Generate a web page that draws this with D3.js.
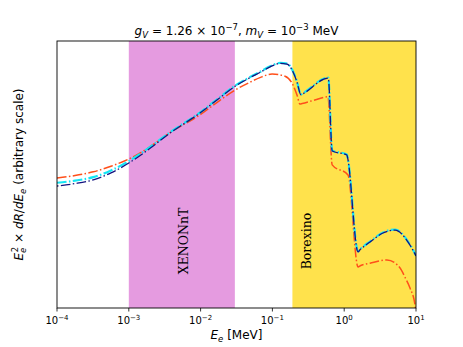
<!DOCTYPE html>
<html lang="en">
<head>
<meta charset="utf-8">
<script src="https://d3js.org/d3.v7.min.js"></script>
<style>
body { margin: 0; background: #fff; }
text { font-family: "DejaVu Sans", sans-serif; fill: #000; }
</style>
</head>
<body>
<div id="chart"></div>
<script>
// energies in MeV, rates in arbitrary units
var blueE = [1e-4, 1.78e-4, 3.2e-4, 5.65e-4, 1e-3, 2e-3, 3.7e-3, 0.01, 0.0186, 0.03, 0.049, 0.067, 0.093, 0.128, 0.16, 0.194, 0.22, 0.25, 0.27, 0.6, 0.68, 1.09, 1.12, 1.56, 1.65, 2.29, 3.47, 5.1, 7.75, 10];
var blueV = [45.7, 46.6, 48.0, 50.6, 54.3, 59.9, 65.4, 73.2, 78.8, 83.0, 86.3, 88.2, 90.3, 91.6, 91.3, 88.4, 84.6, 79.8, 80.3, 86.1, 58.8, 57.3, 56.0, 21.0, 21.7, 24.7, 28.1, 29.2, 24.7, 19.5];
var cyanV = [46.9, 47.7, 49.0, 51.5, 55.0, 60.4, 65.7, 73.4, 79.0, 83.2, 86.5, 88.4, 90.5, 91.8, 91.5, 88.6, 84.8, 80.0, 80.5, 86.3, 59.0, 57.5, 56.2, 21.2, 21.9, 24.9, 28.3, 29.4, 24.9, 19.7];
var orangeE = [1e-4, 1.78e-4, 3.2e-4, 5.65e-4, 1e-3, 2e-3, 3.7e-3, 0.01, 0.0186, 0.03, 0.049, 0.067, 0.099, 0.15, 0.194, 0.22, 0.242, 0.26, 0.39, 0.594, 0.68, 1.13, 1.56, 1.7, 2.29, 3.94, 6.0, 7.0, 8.25, 9.7, 10];
var orangeV = [48.7, 49.6, 51.0, 53.1, 55.8, 60.5, 65.6, 72.5, 77.8, 81.6, 84.6, 86.3, 87.6, 86.8, 83.5, 79.8, 76.4, 76.6, 77.9, 79.1, 53.6, 49.8, 15.4, 15.9, 16.8, 18.0, 15.0, 11.6, 7.5, 1.1, -2];
var bands = [
  {name: "XENONnT", lo: 1e-3, hi: 0.03, at: 5.5e-3, color: "#e59be0"},
  {name: "Borexino", lo: 0.19, hi: 10, at: 0.28, color: "#ffe24c"}
];
var xTicks = [1e-4, 1e-3, 1e-2, 1e-1, 1e0, 1e1];
var xTickExp = ["\u22124", "\u22123", "\u22122", "\u22121", "0", "1"];

var W = 463, H = 347;
var m = {left: 57, right: 47, top: 41, bottom: 39};

var svg = d3.select("#chart").append("svg")
  .attr("width", W)
  .attr("height", H);

var x = d3.scaleLog().domain([1e-4, 10]).range([m.left, W - m.right]);
var y = d3.scaleLinear().domain([0, 100]).range([H - m.bottom, m.top]);

svg.append("clipPath").attr("id", "clip")
  .append("rect")
  .attr("x", m.left).attr("y", m.top)
  .attr("width", W - m.left - m.right)
  .attr("height", H - m.top - m.bottom);

var plot = svg.append("g").attr("clip-path", "url(#clip)");

plot.selectAll("rect.band")
  .data(bands)
  .enter().append("rect")
  .attr("class", "band")
  .attr("x", function(d) { return x(d.lo); })
  .attr("width", function(d) { return x(d.hi) - x(d.lo); })
  .attr("y", m.top)
  .attr("height", H - m.top - m.bottom)
  .attr("fill", function(d) { return d.color; });

var line = d3.line()
  .curve(d3.curveMonotoneX)
  .x(function(d) { return x(d[0]); })
  .y(function(d) { return y(d[1]); });

function pairs(es, vs) {
  return es.map(function(e, i) { return [e, vs[i]]; });
}

plot.append("path")
  .datum(pairs(orangeE, orangeV))
  .attr("d", line)
  .attr("fill", "none")
  .attr("stroke", "#ff4f1a")
  .attr("stroke-width", 1.5)
  .attr("stroke-dasharray", "9.6,2.4,1.5,2.4");

plot.append("path")
  .datum(pairs(blueE, cyanV))
  .attr("d", line)
  .attr("fill", "none")
  .attr("stroke", "#14e6f5")
  .attr("stroke-width", 2.2)
  .attr("stroke-dasharray", "9.6,2.4,1.5,2.4");

plot.append("path")
  .datum(pairs(blueE, blueV))
  .attr("d", line)
  .attr("fill", "none")
  .attr("stroke", "#141480")
  .attr("stroke-width", 1.3)
  .attr("stroke-dasharray", "1.5,2.4,9.6,2.4");

// band labels
plot.selectAll("text.blabel")
  .data(bands)
  .enter().append("text")
  .attr("class", "blabel")
  .attr("transform", function(d) {
    return "translate(" + (x(d.at) + 6) + "," + 241 + ") rotate(-90)";
  })
  .attr("text-anchor", "middle")
  .style("font-family", "'DejaVu Serif', serif")
  .style("font-size", "12.5px")
  .text(function(d) { return d.name; });

// frame
svg.append("rect")
  .attr("x", m.left).attr("y", m.top)
  .attr("width", W - m.left - m.right)
  .attr("height", H - m.top - m.bottom)
  .attr("fill", "none")
  .attr("stroke", "#000")
  .attr("stroke-width", 0.9);

// x axis
var xAxis = svg.append("g")
  .attr("transform", "translate(0," + (H - m.bottom) + ")");
xAxis.selectAll("line")
  .data(xTicks)
  .enter().append("line")
  .attr("x1", function(d) { return x(d); })
  .attr("x2", function(d) { return x(d); })
  .attr("y1", 0).attr("y2", 3.5)
  .attr("stroke", "#000").attr("stroke-width", 0.8);
var tl = xAxis.selectAll("text")
  .data(xTicks)
  .enter().append("text")
  .attr("x", function(d) { return x(d); })
  .attr("y", 16)
  .attr("text-anchor", "middle")
  .style("font-size", "10px");
tl.append("tspan").text("10");
tl.append("tspan")
  .attr("dy", -4)
  .style("font-size", "7px")
  .text(function(d, i) { return xTickExp[i]; });

svg.append("text")
  .attr("x", (m.left + W - m.right) / 2)
  .attr("y", 339)
  .attr("text-anchor", "middle")
  .style("font-size", "12px")
  .html('<tspan font-style="italic">E</tspan><tspan font-style="italic" dy="3" font-size="8.5px">e</tspan><tspan dy="-3"> [MeV]</tspan>');

svg.append("text")
  .attr("transform", "translate(23," + ((m.top + H - m.bottom) / 2) + ") rotate(-90)")
  .attr("text-anchor", "middle")
  .style("font-size", "12px")
  .html('<tspan font-style="italic">E</tspan><tspan font-style="italic" dy="3" font-size="8.5px">e</tspan><tspan dy="-8" dx="-4.5" font-size="8.5px">2</tspan><tspan dy="5"> \u00d7 </tspan><tspan font-style="italic">dR</tspan><tspan>/</tspan><tspan font-style="italic">dE</tspan><tspan font-style="italic" dy="3" font-size="8.5px">e</tspan><tspan dy="-3"> (arbitrary scale)</tspan>');

svg.append("text")
  .attr("x", (m.left + W - m.right) / 2)
  .attr("y", 35)
  .attr("text-anchor", "middle")
  .style("font-size", "12px")
  .html('<tspan font-style="italic">g</tspan><tspan font-style="italic" dy="3" font-size="8.5px">V</tspan><tspan dy="-3"> = 1.26 \u00d7 10</tspan><tspan dy="-5" font-size="8.5px">\u22127</tspan><tspan dy="5">, </tspan><tspan font-style="italic">m</tspan><tspan font-style="italic" dy="3" font-size="8.5px">V</tspan><tspan dy="-3"> = 10</tspan><tspan dy="-5" font-size="8.5px">\u22123</tspan><tspan dy="5"> MeV</tspan>');
</script>
</body>
</html>
